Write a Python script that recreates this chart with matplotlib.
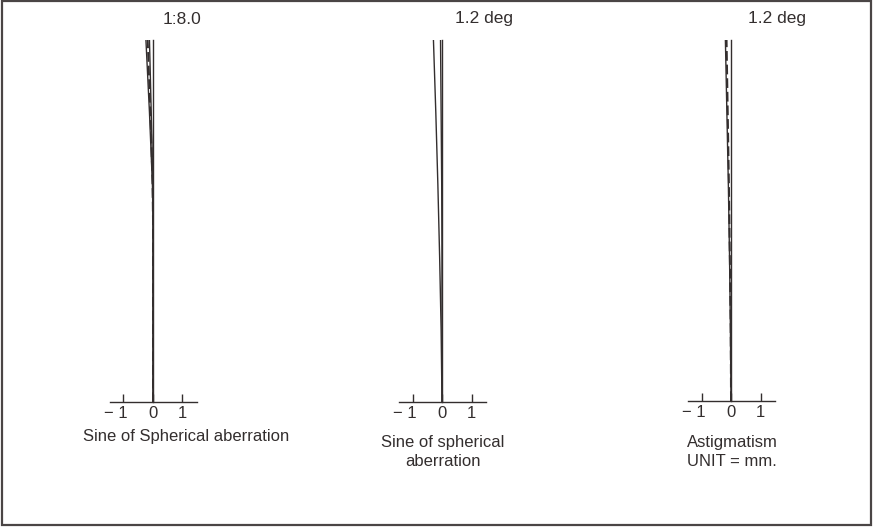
import matplotlib.pyplot as plt
from matplotlib.patches import Rectangle
from matplotlib.transforms import ScaledTranslation

# relative height (0 = axis, 1 = top of curve) and aberration in mm
h_sph = [0.0, 0.2, 0.4, 0.5, 0.6, 0.7, 0.8, 0.9, 1.0]
sph_a = [0.0, 0.0, 0.0, 0.0, -0.02, -0.07, -0.12, -0.18, -0.24]
sph_b = [0.0, 0.0, 0.0, 0.0, -0.01, -0.03, -0.06, -0.09, -0.12]
sine_1 = [0.0, 0.0, 0.0, 0.0, -0.015, -0.05, -0.09, -0.135, -0.18]

h_sine = [0.0, 0.2, 0.4, 0.6, 0.8, 1.0]
sine_left = [0.0, -0.03, -0.08, -0.14, -0.21, -0.29]
sine_right = [0.0, 0.0, 0.0, -0.01, -0.03, -0.05]

h_ast = [0.0, 0.2, 0.4, 0.6, 0.8, 1.0]
sagittal = [0.0, -0.02, -0.05, -0.09, -0.14, -0.19]
tangential = [0.0, -0.01, -0.04, -0.07, -0.11, -0.15]

ticks = [-1, 0, 1]
tick_labels = ["\u2212 1", "0", "1"]
top_labels = ["1:8.0", "1.2 deg", "1.2 deg"]

W, H = 873, 527
INK = "#332e2e"
plt.rcParams['font.family'] = ['Liberation Sans', 'DejaVu Sans']

fig = plt.figure(figsize=(W / 100, H / 100), dpi=100)


def px(x, y):
    return x / W, 1 - y / H


def make_axes(x0, y_axis, y_top=40, scale=29.5, lo=-1.47, hi=1.5):
    left, bottom = px(x0 + lo * scale, y_axis)
    ax = fig.add_axes([left, bottom, (hi - lo) * scale / W, (y_axis - y_top) / H])
    ax.set_xlim(lo, hi)
    ax.set_ylim(0, 1)
    ax.patch.set_alpha(0)
    for s in ['top', 'right']:
        ax.spines[s].set_visible(False)
    ax.spines['left'].set_position(('data', 0))
    for s in ['left', 'bottom']:
        ax.spines[s].set_color(INK)
        ax.spines[s].set_linewidth(1.0)
    ax.set_yticks([])
    ax.set_xticks(ticks)
    ax.set_xticklabels(tick_labels)
    ax.tick_params(axis='x', direction='in', length=6, width=1.0, color=INK,
                   labelsize=12, labelcolor=INK, pad=3)
    # the digit of "-1" sits under its tick, the minus hangs to the left
    lab = ax.get_xticklabels()[0]
    lab.set_horizontalalignment('right')
    lab.set_transform(lab.get_transform() + ScaledTranslation(0.04, 0, fig.dpi_scale_trans))
    return ax


zeros = [153, 442, 731]
ax1 = make_axes(zeros[0], 402)
ax1.plot(sph_a, h_sph, color=INK, lw=1.0)
ax1.plot(sph_b, h_sph, color=INK, lw=1.0)
ax1.plot(sine_1, h_sph, color=INK, lw=1.4, dashes=(5, 2))

ax2 = make_axes(zeros[1], 402)
ax2.plot(sine_left, h_sine, color=INK, lw=1.0)
ax2.plot(sine_right, h_sine, color=INK, lw=1.0)

ax3 = make_axes(zeros[2], 401)
ax3.plot(sagittal, h_ast, color=INK, lw=1.0)
ax3.plot(tangential, h_ast, color=INK, lw=1.4, dashes=(5, 2))

# top labels
for (x, y), t in zip([(163, 20), (455, 19), (748, 19)], top_labels):
    fig.text(*px(x, y), t, fontsize=12.5, color=INK, ha='left', va='center')

fs = 12
fig.text(*px(186, 437), "Sine of Spherical aberration", fontsize=fs, color=INK,
         ha='center', va='center')
fig.text(*px(443, 443), "Sine of spherical", fontsize=fs, color=INK,
         ha='center', va='center')
fig.text(*px(443, 461), "aberration", fontsize=fs, color=INK,
         ha='center', va='center')
fig.text(*px(687, 442), "Astigmatism", fontsize=fs, color=INK,
         ha='left', va='center')
fig.text(*px(687, 461), "UNIT = mm.", fontsize=fs, color=INK,
         ha='left', va='center')

# frame around the whole chart
x0, y0 = px(2, 525)
x1, y1 = px(871, 1)
fig.patches.append(Rectangle((x0, y0), x1 - x0, y1 - y0, transform=fig.transFigure,
                             fill=False, edgecolor="#4a4545", lw=1.6))

fig.savefig("out.png", dpi=100)
